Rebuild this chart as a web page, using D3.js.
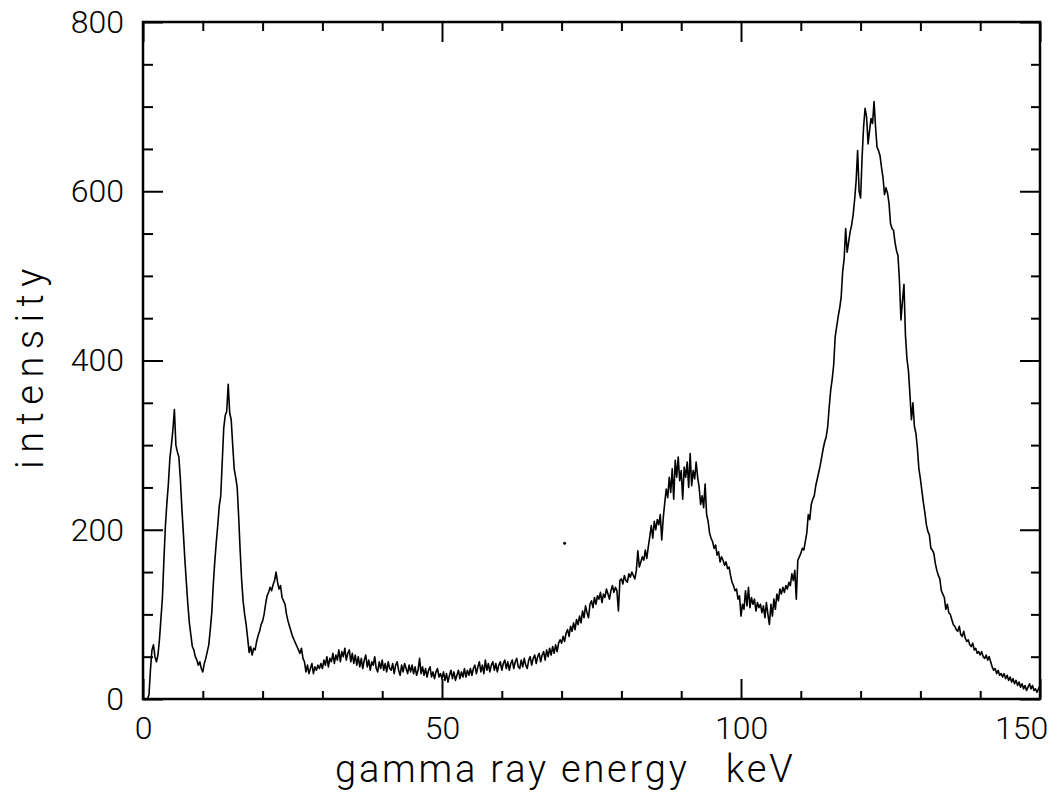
<!DOCTYPE html>
<html>
<head>
<meta charset="utf-8">
<script src="https://cdnjs.cloudflare.com/ajax/libs/d3/7.8.5/d3.min.js"></script>
<style>
  body { margin: 0; background: #fff; }
  text { font-family: Roboto, "DejaVu Sans", sans-serif; font-weight: 300; fill: #000; }
</style>
</head>
<body>
<div id="spectrum"></div>
<script>
// channel width of the spectrum, keV
const keVStep = 0.25;

// counts per channel, 0 .. 150 keV, one row = 5 keV
const counts = [
    0,0,0,0,5,35,58,64,50,44,52,70,95,120,165,205,232,255,285,300,
    318,342,300,292,286,260,225,196,165,138,112,90,76,62,58,50,46,40,44,36,
    32,42,48,56,64,82,102,135,162,185,205,228,240,280,320,335,340,372,338,330,
    300,272,262,250,215,175,140,115,100,88,72,55,62,52,60,58,68,75,80,88,
    92,100,112,122,126,132,128,135,140,150,138,130,134,120,116,112,100,92,86,80,
    74,70,66,62,58,54,60,48,44,32,40,30,36,42,30,38,34,40,36,42,
    36,46,40,50,38,48,44,54,42,52,46,58,44,56,50,60,46,54,58,44,
    54,42,52,40,50,38,48,36,46,52,38,46,34,44,40,50,36,32,44,36,
    46,34,42,32,44,36,34,42,30,40,44,34,28,40,32,42,36,30,40,32,
    40,30,38,28,34,48,30,38,28,36,26,34,38,26,32,24,32,36,26,30,
    24,32,22,30,20,28,34,24,32,22,28,34,24,32,26,36,26,34,28,36,
    28,36,40,30,38,44,32,40,30,46,34,42,32,40,44,34,42,32,40,44,
    34,42,46,36,44,34,42,46,36,44,48,38,36,46,38,48,40,36,46,50,
    40,48,52,42,50,54,44,52,56,46,58,50,60,52,62,54,64,56,66,70,
    66,74,68,78,82,74,86,80,90,82,94,88,98,90,104,96,110,102,96,112,
    116,108,120,112,122,118,126,114,124,120,130,124,118,128,134,126,132,128,104,140,
    142,136,146,140,138,148,144,150,146,142,152,175,156,162,168,164,176,166,180,192,
    205,190,210,200,212,206,218,188,214,232,248,238,262,244,272,236,282,262,286,258,
    270,236,274,262,280,250,290,252,270,260,280,262,250,230,240,226,254,218,210,196,
    190,186,178,182,170,174,162,168,164,158,162,154,156,146,138,134,128,130,118,122,
    98,112,106,128,110,132,108,120,112,118,104,114,108,112,102,110,96,114,100,88,
    112,98,118,106,124,116,130,124,132,126,134,130,138,134,148,140,152,118,164,168,
    172,178,176,186,196,218,212,230,236,240,252,260,268,276,286,296,304,310,322,345,
    365,378,395,428,440,452,462,475,505,520,556,528,540,552,560,572,590,612,648,600,
    592,640,676,698,688,656,672,686,680,706,676,652,648,642,628,616,596,604,598,586,
    562,556,554,540,530,524,494,448,470,490,430,402,388,360,330,350,322,314,296,272,
    260,246,232,220,206,198,194,178,176,172,160,152,146,142,128,124,120,106,112,102,
    100,94,88,86,82,80,86,76,74,80,72,68,70,64,62,66,58,60,54,56,
    52,56,50,48,52,46,50,44,38,34,36,30,34,28,30,26,30,24,28,22,
    26,20,24,18,22,16,20,14,18,12,16,10,14,18,12,16,10,12,8,12,
    16
];

// a stray speck on the scanned sheet
const specks = [[70.5, 184]];

const xDomain = [0, 150];
const yDomain = [0, 800];
const xMajorTicks = [0, 50, 100, 150];
const xMinorTicks = [10, 20, 30, 40, 60, 70, 80, 90, 110, 120, 130, 140];
const yMajorTicks = [0, 200, 400, 600, 800];
const yMinorTicks = [50, 100, 150, 250, 300, 350, 450, 500, 550, 650, 700, 750];
const xTitle = "gamma ray energy   keV";
const yTitle = "intensity";

let width = 1057,
    height = 800,
    margin = {left: 143, top: 22, right: 17, bottom: 101},
    plotWidth = width - margin.left - margin.right,
    plotHeight = height - margin.top - margin.bottom;

let svg = d3.select('#spectrum').append('svg')
    .attr('width', width)
    .attr('height', height);

let g = svg.append('g')
    .attr('transform', `translate(${margin.left}, ${margin.top})`);

let xScale = d3.scaleLinear().domain(xDomain).range([0, plotWidth]);
let yScale = d3.scaleLinear().domain(yDomain).range([plotHeight, 0]);

function styleAxis(sel) {
    sel.select('.domain').remove();
    sel.selectAll('line').attr('stroke', '#000').attr('stroke-width', 2);
    sel.selectAll('text').style('font-size', '32px');
}

// bottom
g.append('g')
    .attr('transform', `translate(0, ${plotHeight})`)
    .call(d3.axisBottom(xScale).tickValues(xMinorTicks).tickSize(-8).tickFormat(''))
    .call(styleAxis);
let xAxis = g.append('g')
    .attr('transform', `translate(0, ${plotHeight})`)
    .call(d3.axisBottom(xScale).tickValues(xMajorTicks).tickSize(-20).tickPadding(17))
    .call(styleAxis);
xAxis.selectAll('.tick text')
    .filter(d => d === 150)
    .attr('dx', -19);

// top
g.append('g')
    .call(d3.axisTop(xScale).tickValues(xMinorTicks).tickSize(-9).tickFormat(''))
    .call(styleAxis);
g.append('g')
    .call(d3.axisTop(xScale).tickValues(xMajorTicks).tickSize(-20).tickFormat(''))
    .call(styleAxis);

// left
g.append('g')
    .call(d3.axisLeft(yScale).tickValues(yMinorTicks).tickSize(-10).tickFormat(''))
    .call(styleAxis);
g.append('g')
    .call(d3.axisLeft(yScale).tickValues(yMajorTicks).tickSize(-20).tickPadding(19))
    .call(styleAxis);

// right
g.append('g')
    .attr('transform', `translate(${plotWidth}, 0)`)
    .call(d3.axisRight(yScale).tickValues(yMinorTicks).tickSize(-9).tickFormat(''))
    .call(styleAxis);
g.append('g')
    .attr('transform', `translate(${plotWidth}, 0)`)
    .call(d3.axisRight(yScale).tickValues(yMajorTicks).tickSize(-20).tickFormat(''))
    .call(styleAxis);

// frame
g.append('rect')
    .attr('width', plotWidth)
    .attr('height', plotHeight)
    .attr('fill', 'none')
    .attr('stroke', '#000')
    .attr('stroke-width', 2.5);

let line = d3.line()
    .x((d, i) => xScale(i * keVStep))
    .y(d => yScale(d));

g.append('path')
    .datum(counts)
    .attr('fill', 'none')
    .attr('stroke', '#000')
    .attr('stroke-width', 1.6)
    .attr('stroke-linejoin', 'round')
    .attr('d', line);

g.selectAll('.speck')
    .data(specks)
    .join('circle')
    .attr('class', 'speck')
    .attr('cx', d => xScale(d[0]))
    .attr('cy', d => yScale(d[1]))
    .attr('r', 1.5)
    .attr('fill', '#000');

svg.append('text')
    .attr('x', 335)
    .attr('y', 782)
    .style('font-size', '38px')
    .style('letter-spacing', '2.8px')
    .style('white-space', 'pre')
    .text(xTitle);

svg.append('text')
    .attr('transform', 'translate(43, 365) rotate(-90)')
    .attr('text-anchor', 'middle')
    .style('font-size', '38px')
    .style('letter-spacing', '7.5px')
    .text(yTitle);
</script>
</body>
</html>
